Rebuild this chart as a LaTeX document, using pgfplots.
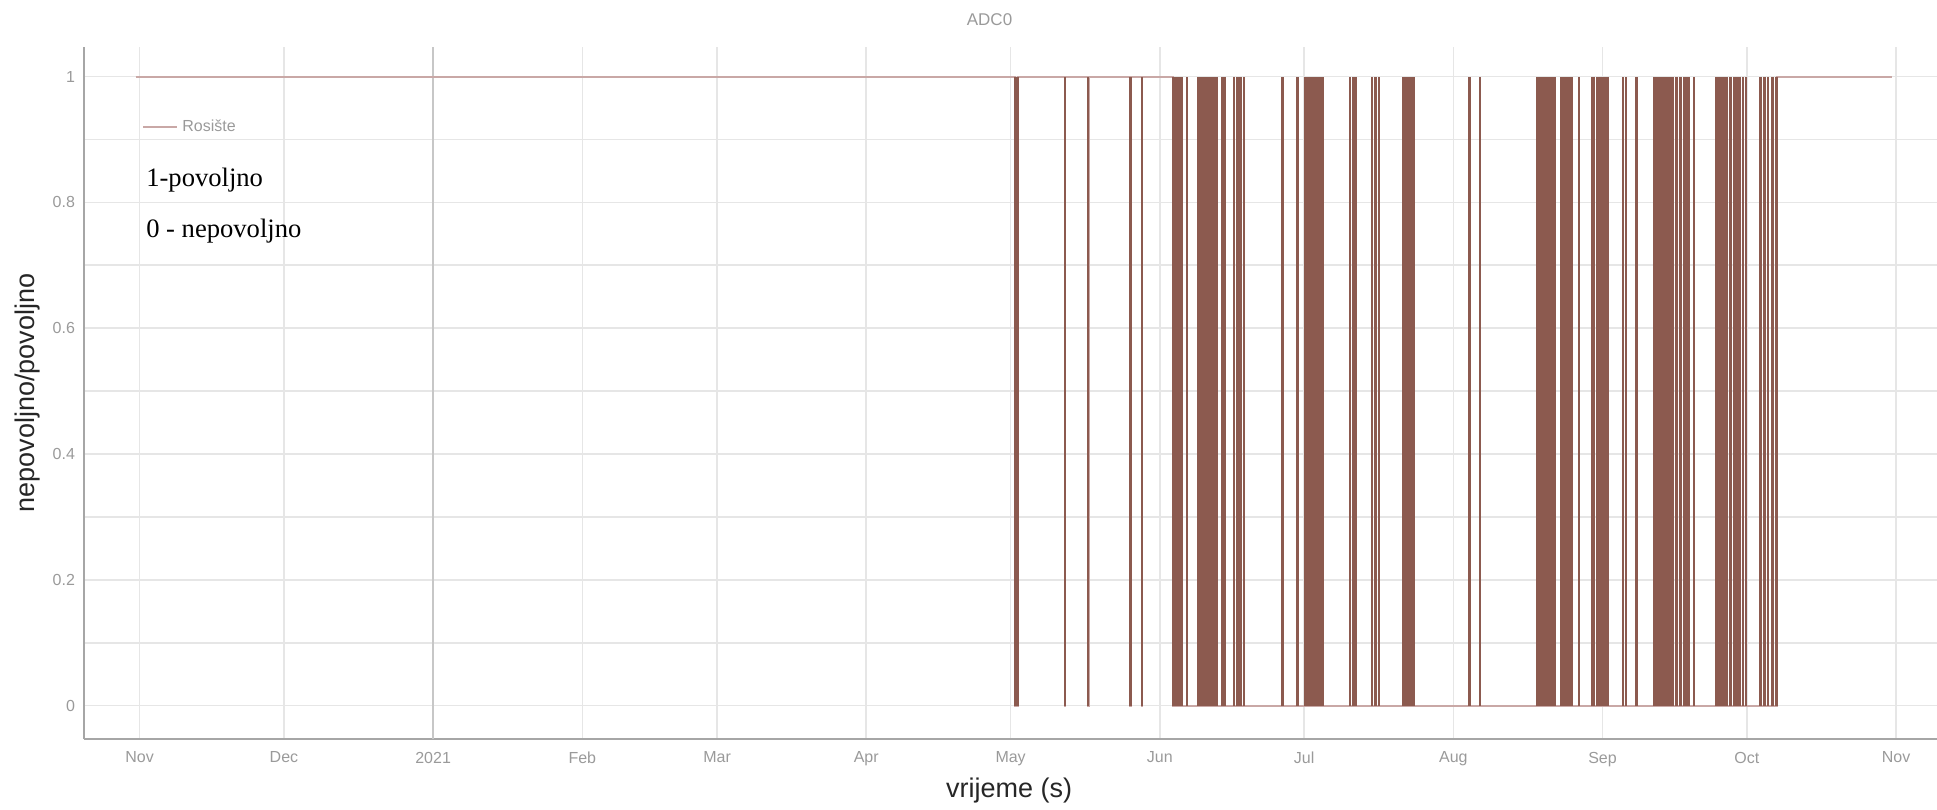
\documentclass[border=0pt]{standalone}
\usepackage{fontspec}
\setmainfont{Liberation Sans}
\newfontfamily\timesfont{Liberation Serif}
\usepackage{pgfplots}
\pgfplotsset{compat=1.18}
\usepackage{pgfplotstable}

\definecolor{spike}{HTML}{8C5A4F}
\definecolor{stepc}{HTML}{C9A8A6}
\definecolor{gridc}{HTML}{E6E6E6}
\definecolor{spinec}{HTML}{A6A6A6}
\definecolor{tickc}{HTML}{9A9A9A}

% step signal (days since 1 Nov 2020)
\pgfplotstableread{
x y
-0.8 1
182.0 0
182.5 1
192.2 0
192.4 1
197.0 0
197.2 1
205.8 0
206.0 1
208.2 0
208.4 1
214.8 0
340.2 1
364.2 1
}\steptable

% transitions (vertical strokes)
\pgfplotstableread{
x y
182.0 1
182.4 1
192.3 1
197.1 1
205.9 1
208.3 1
214.8 1
215.1 1
215.5 1
216.0 1
216.5 1
217.6 1
220.0 1
220.3 1
220.6 1
220.9 1
221.2 1
221.5 1
221.8 1
222.1 1
222.4 1
222.7 1
223.0 1
223.3 1
223.6 1
223.8 1
224.9 1
225.4 1
227.4 1
228.1 1
228.8 1
229.5 1
237.5 1
240.6 1
242.2 1
242.5 1
242.8 1
243.1 1
243.4 1
243.7 1
244.0 1
244.3 1
244.6 1
244.9 1
245.2 1
245.5 1
245.8 1
251.5 1
252.2 1
252.7 1
256.1 1
256.8 1
257.5 1
262.6 1
263.0 1
263.3 1
263.7 1
264.0 1
264.4 1
264.7 1
276.4 1
278.5 1
290.4 1
290.7 1
291.0 1
291.3 1
291.6 1
291.9 1
292.2 1
292.5 1
292.8 1
293.1 1
293.4 1
293.7 1
294.0 1
295.4 1
295.7 1
296.0 1
296.3 1
296.6 1
296.9 1
297.2 1
297.5 1
299.1 1
301.8 1
302.1 1
302.8 1
303.1 1
303.4 1
303.7 1
304.0 1
304.3 1
304.6 1
304.9 1
305.1 1
308.2 1
308.9 1
311.1 1
314.8 1
315.1 1
315.4 1
315.7 1
316.0 1
316.3 1
316.6 1
316.9 1
317.2 1
317.5 1
317.8 1
318.1 1
318.4 1
318.6 1
319.4 1
320.2 1
320.9 1
321.4 1
322.0 1
323.0 1
327.7 1
328.0 1
328.3 1
328.6 1
328.9 1
329.2 1
329.5 1
329.8 1
330.6 1
331.3 1
331.8 1
332.5 1
333.2 1
333.8 1
336.8 1
337.6 1
338.4 1
339.3 1
340.1 1
}\spiketable

\begin{document}
\begin{tikzpicture}
\useasboundingbox (-42pt,-35pt) rectangle (926.5pt,369.5pt);
\begin{axis}[
  scale only axis, width=926.5pt, height=346pt,
  xmin=-11.55, xmax=373.5, ymin=-0.053, ymax=1.047,
  axis x line*=bottom, axis y line*=left,
  axis line style={spinec, line width=0.9pt},
  xtick={0,30,92,120,151,181,212,242,273,304,334,365},
  xticklabels={Nov,Dec,Feb,Mar,Apr,May,Jun,Jul,Aug,Sep,Oct,Nov},
  extra x ticks={61}, extra x tick labels={2021},
  extra x tick style={major grid style={draw=black!22, line width=0.8pt}},
  ytick={0,0.2,0.4,0.6,0.8,1},
  yticklabels={0,0.2,0.4,0.6,0.8,1},
  minor ytick={0.1,0.3,0.5,0.7,0.9},
  grid=both,
  major grid style={draw=gridc, line width=0.8pt},
  minor grid style={draw=gridc, line width=0.8pt},
  major tick length=0pt, minor tick length=0pt,
  tick label style={font=\fontsize{8}{9}\selectfont, text=tickc},
  xticklabel style={yshift=-2.9pt},
  yticklabel style={xshift=-1pt},
  /pgf/number format/assume math mode=true,
  xlabel={vrijeme (s)}, ylabel={nepovoljno/povoljno},
  label style={font=\fontsize{13.5}{15}\selectfont, text=black!85},
  x label style={at={(axis description cs:0.4993,0)}, anchor=center, yshift=-25.8pt},
  y label style={at={(axis description cs:-0.03065,0.5)}, anchor=center},
  title={ADC0},
  title style={at={(axis description cs:0.4887,1)}, anchor=center, yshift=7.6pt, font=\fontsize{8.5}{10}\selectfont, text=tickc},
  legend style={draw=none, fill=none, at={(rel axis cs:0.028,0.884)}, anchor=west,
    font=\fontsize{8}{9}\selectfont, text=tickc},
  legend cell align=left,
  clip=false,
]
\addplot[const plot, color=stepc, line width=1pt] table[x=x,y=y] {\steptable};
\addlegendentry{Rosište}
\addplot[ycomb, color=spike, line width=1.25pt, forget plot] table[x=x,y=y] {\spiketable};
\node[anchor=west, inner sep=0pt, font=\timesfont\fontsize{13.3}{15}\selectfont] at (rel axis cs:0.0334,0.807) {1-povoljno};
\node[anchor=west, inner sep=0pt, font=\timesfont\fontsize{13.3}{15}\selectfont] at (rel axis cs:0.0334,0.734) {0 - nepovoljno};
\end{axis}
\end{tikzpicture}
\end{document}
